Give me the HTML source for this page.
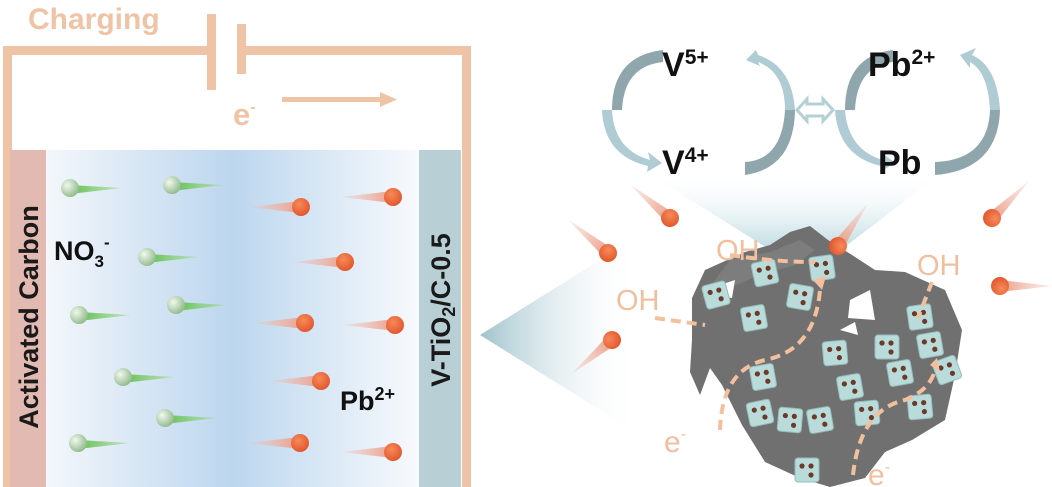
<!DOCTYPE html>
<html><head><meta charset="utf-8"><style>
html,body{margin:0;padding:0;background:#fff}
svg{display:block}
text{font-family:"Liberation Sans","DejaVu Sans",sans-serif}
</style></head><body>
<svg width="1052" height="487" viewBox="0 0 1052 487" xmlns="http://www.w3.org/2000/svg">
<defs>
<linearGradient id="el" x1="0" x2="1" y1="0" y2="0">
<stop offset="0" stop-color="#f4f7fb"/><stop offset="0.5" stop-color="#bcd6ee"/><stop offset="1" stop-color="#f8fafd"/>
</linearGradient>
<radialGradient id="gs" cx="0.35" cy="0.35" r="0.7"><stop offset="0" stop-color="#f2f8ee"/><stop offset="1" stop-color="#8fb98a"/></radialGradient>
<radialGradient id="os" cx="0.4" cy="0.35" r="0.7"><stop offset="0" stop-color="#f78a5a"/><stop offset="1" stop-color="#e0552a"/></radialGradient>
<linearGradient id="gt" x1="0" x2="1"><stop offset="0" stop-color="#5fbf4f"/><stop offset="1" stop-color="#a8dc98" stop-opacity="0.6"/></linearGradient>
<linearGradient id="ot" x1="0" x2="1"><stop offset="0" stop-color="#f3c2b4" stop-opacity="0.3"/><stop offset="1" stop-color="#eb9c86"/></linearGradient>
<linearGradient id="tri" x1="0" x2="1"><stop offset="0" stop-color="#9fc2cc"/><stop offset="1" stop-color="#ffffff" stop-opacity="0"/></linearGradient>
<linearGradient id="cone" x1="0" x2="0" y1="0" y2="1"><stop offset="0" stop-color="#ffffff" stop-opacity="0.2"/><stop offset="1" stop-color="#a9cfd8"/></linearGradient>
<g id="gi"><polygon points="0,-3 52,0 0,6" fill="url(#gt)"/><circle cx="0" cy="0" r="9" fill="url(#gs)"/></g>
<g id="oi"><polygon points="-52,0 0,-6 0,6" fill="url(#ot)"/><circle cx="0" cy="0" r="9" fill="url(#os)"/></g>
<g id="cube"><rect x="-12" y="-12" width="24" height="24" rx="3" fill="#b9dcdb" stroke="#95bcbc" stroke-width="1"/><circle cx="-5" cy="-4" r="2.6" fill="#6b3a2a"/><circle cx="4" cy="-4" r="2.6" fill="#6b3a2a"/><circle cx="4" cy="5" r="2.6" fill="#6b3a2a"/></g>
</defs>

<!-- circuit -->
<g fill="#efc4a6">
<rect x="3" y="46" width="212" height="9"/>
<rect x="3" y="46" width="9" height="441"/>
<rect x="207" y="14" width="9" height="76"/>
<rect x="237" y="24" width="9" height="50"/>
<rect x="237" y="46" width="234" height="9"/>
<rect x="462" y="46" width="9" height="441"/>
<rect x="282" y="97" width="100" height="5"/>
<polygon points="380,92 397,99.5 380,107"/>
</g>
<text x="28" y="29" font-size="30" font-weight="bold" fill="#efc4a6">Charging</text>
<text x="233" y="125" font-size="31" font-weight="bold" fill="#efc4a6">e<tspan font-size="16" dy="-13">-</tspan></text>

<!-- cell -->
<rect x="45" y="150" width="375" height="337" fill="url(#el)"/>
<rect x="10" y="150" width="36" height="337" fill="#e2bab2"/>
<rect x="419" y="150" width="42" height="337" fill="#b8d0d5"/>
<text transform="translate(38,317) rotate(-90)" text-anchor="middle" font-size="27" font-weight="bold" fill="#1a1a1a">Activated Carbon</text>
<text transform="translate(450,310) rotate(-90)" text-anchor="middle" font-size="27" font-weight="bold" fill="#1a1a1a">V-TiO<tspan font-size="18" dy="5">2</tspan><tspan dy="-5">/C-0.5</tspan></text>
<text x="54" y="260" font-size="27" font-weight="bold" fill="#111">NO<tspan font-size="17" dy="7">3</tspan><tspan font-size="17" dy="-19">-</tspan></text>
<text x="340" y="410" font-size="27" font-weight="bold" fill="#111">Pb<tspan font-size="18" dy="-10">2+</tspan></text>

<use href="#gi" x="70" y="188"/><use href="#gi" x="172" y="185"/><use href="#gi" x="147" y="257"/>
<use href="#gi" x="79" y="315"/><use href="#gi" x="176" y="305"/><use href="#gi" x="123" y="377"/>
<use href="#gi" x="165" y="418"/><use href="#gi" x="78" y="443"/>
<use href="#oi" x="301" y="207"/><use href="#oi" x="393" y="197"/><use href="#oi" x="345" y="262"/>
<use href="#oi" x="305" y="323"/><use href="#oi" x="395" y="325"/><use href="#oi" x="321" y="381"/>
<use href="#oi" x="300" y="443"/><use href="#oi" x="393" y="452"/>

<!-- right: zoom triangle -->
<polygon points="480,335 640,235 640,435" fill="url(#tri)"/>
<polygon points="655,178 935,178 825,262 790,262" fill="url(#cone)"/>

<!-- particle blob -->
<path d="M692,298 L705,270 L745,252 L770,245 L790,232 L810,226 L828,240 L852,255 L875,270 L905,272 L945,290 L962,330 L955,375 L945,420 L912,440 L885,452 L865,478 L830,487 L800,478 L765,462 L742,425 L722,385 L710,368 L700,395 L690,372 L692,340 Z" fill="#707070"/>
<path d="M700,300 L730,260 L770,252 L800,240 L815,250 L795,265 L760,275 Z" fill="#7d7d7d"/>
<polygon points="850,300 870,290 875,320 848,318" fill="#fff"/>
<polygon points="840,330 855,322 858,335" fill="#fff"/>
<polygon points="720,285 735,280 732,298 718,296" fill="#fff"/>

<use href="#cube" transform="translate(822,268) rotate(-8)"/>
<use href="#cube" transform="translate(765,273) rotate(-12)"/>
<use href="#cube" transform="translate(716,295) rotate(-15)"/>
<use href="#cube" transform="translate(754,318) rotate(-10)"/>
<use href="#cube" transform="translate(800,297) rotate(10)"/>
<use href="#cube" transform="translate(835,353) rotate(-5)"/>
<use href="#cube" transform="translate(887,347)"/>
<use href="#cube" transform="translate(920,317) rotate(-8)"/>
<use href="#cube" transform="translate(930,345) rotate(-10)"/>
<use href="#cube" transform="translate(850,387) rotate(-10)"/>
<use href="#cube" transform="translate(867,413) rotate(-5)"/>
<use href="#cube" transform="translate(900,373) rotate(-10)"/>
<use href="#cube" transform="translate(920,407) rotate(-5)"/>
<use href="#cube" transform="translate(947,370) rotate(-20)"/>
<use href="#cube" transform="translate(760,413) rotate(-12)"/>
<use href="#cube" transform="translate(790,420) rotate(5)"/>
<use href="#cube" transform="translate(820,420) rotate(-10)"/>
<use href="#cube" transform="translate(807,470)"/>
<use href="#cube" transform="translate(763,377) rotate(-10)"/>

<!-- dashed paths -->
<g fill="none" stroke="#f3c09e" stroke-width="4" stroke-dasharray="10,6">
<path d="M730,255 Q775,262 815,262"/>
<path d="M655,318 L705,325"/>
<path d="M720,430 Q722,370 765,360 Q815,350 820,290"/>
<path d="M853,475 Q860,410 905,400 Q930,390 935,370"/>
<path d="M932,282 L918,318"/>
</g>
<polygon points="813,280 822,290 826,276" fill="#f3c09e"/>
<polygon points="930,365 940,372 937,358" fill="#f3c09e"/>
<text x="716" y="260" font-size="29" fill="#f0bf9f">OH</text>
<text x="616" y="310" font-size="29" fill="#f0bf9f">OH</text>
<text x="917" y="275" font-size="29" fill="#f0bf9f">OH</text>
<text x="664" y="452" font-size="30" fill="#f0bf9f">e<tspan font-size="16" dy="-13">-</tspan></text>
<text x="868" y="485" font-size="30" fill="#f0bf9f">e<tspan font-size="16" dy="-13">-</tspan></text>

<!-- orange ions right side -->
<g transform="translate(670,218) rotate(40)"><use href="#oi"/></g>
<g transform="translate(608,253) rotate(40)"><use href="#oi"/></g>
<g transform="translate(612,340) rotate(-40)"><use href="#oi"/></g>
<g transform="translate(838,246) rotate(125)"><use href="#oi"/></g>
<g transform="translate(992,218) rotate(135)"><use href="#oi"/></g>
<g transform="translate(1000,286) rotate(180)"><use href="#oi"/></g>

<!-- redox cycles -->
<g>
<path d="M663,50 Q612,56 612,110 L622,110 Q624,66 663,62 Z" fill="#8fa6ad"/>
<path d="M612,110 Q614,150 650,160 L648,152 L662,163 L647,172 L648,166 Q604,156 602,110 Z" fill="#afcbd3"/>
<path d="M745,175 Q794,168 795,110 L785,110 Q782,160 745,162 Z" fill="#8fa6ad"/>
<path d="M795,110 Q792,66 758,55 L756,50 L746,60 L760,66 L758,62 Q785,72 785,110 Z" fill="#afcbd3"/>
<path d="M893,50 Q845,56 845,110 L855,110 Q857,66 893,62 Z" fill="#8fa6ad"/>
<path d="M845,110 Q848,150 883,160 L881,152 L895,163 L880,172 L881,166 Q838,156 835,110 Z" fill="#afcbd3"/>
<path d="M935,175 Q998,170 1000,110 L990,110 Q988,160 935,162 Z" fill="#8fa6ad"/>
<path d="M1000,110 Q997,66 972,55 L976,48 L960,55 L970,68 L970,62 Q988,72 990,110 Z" fill="#afcbd3"/>
<polygon points="797,110 807,99 807,104 823,104 823,99 833,110 823,121 823,116 807,116 807,121" fill="none" stroke="#b4d0d6" stroke-width="3"/>
</g>
<text x="662" y="76" font-size="34" font-weight="bold" fill="#111">V<tspan font-size="21" dy="-12">5+</tspan></text>
<text x="662" y="174" font-size="34" font-weight="bold" fill="#111">V<tspan font-size="21" dy="-12">4+</tspan></text>
<text x="868" y="76" font-size="34" font-weight="bold" fill="#111">Pb<tspan font-size="21" dy="-12">2+</tspan></text>
<text x="878" y="174" font-size="34" font-weight="bold" fill="#111">Pb</text>
</svg>
</body></html>
